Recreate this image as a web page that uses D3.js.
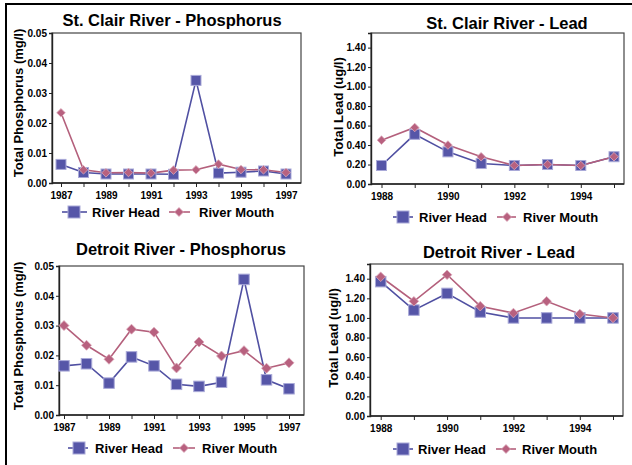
<!DOCTYPE html>
<html>
<head>
<meta charset="utf-8">
<script src="https://cdn.jsdelivr.net/npm/d3@7"></script>
<style>
html,body{margin:0;padding:0;background:#fff;}
svg{display:block;}
text{font-family:"Liberation Sans",Arial,Helvetica,sans-serif;font-weight:bold;fill:#000;}
</style>
</head>
<body>
<svg id="chart" width="632" height="465"></svg>
<script>
// ---- data ----
const yearsPhos = [1987,1988,1989,1990,1991,1992,1993,1994,1995,1996,1997];
const yearsLead = [1988,1989,1990,1991,1992,1993,1994,1995];
const phosYearLabels = [1987,1989,1991,1993,1995,1997];
const leadYearLabels = [1988,1990,1992,1994];
const phosTicks = [0,0.01,0.02,0.03,0.04,0.05];
const leadTicks = [0,0.2,0.4,0.6,0.8,1.0,1.2,1.4];
const seriesNames = ["River Head","River Mouth"];

const stClairPhosHead  = [0.0062,0.0035,0.0030,0.0030,0.0030,0.0029,0.0342,0.0033,0.0036,0.0040,0.0030];
const stClairPhosMouth = [0.0234,0.0044,0.0034,0.0035,0.0033,0.0043,0.0044,0.0063,0.0045,0.0044,0.0035];
const detroitPhosHead  = [0.0165,0.0172,0.0107,0.0195,0.0165,0.0103,0.0096,0.0110,0.0455,0.0118,0.0088];
const detroitPhosMouth = [0.0300,0.0234,0.0187,0.0288,0.0278,0.0158,0.0245,0.0198,0.0216,0.0157,0.0175];
const stClairLeadHead  = [0.19,0.51,0.33,0.21,0.19,0.20,0.19,0.28];
const stClairLeadMouth = [0.45,0.58,0.40,0.28,0.19,0.20,0.19,0.28];
const detroitLeadHead  = [1.37,1.08,1.25,1.06,1.00,1.00,1.00,1.00];
const detroitLeadMouth = [1.42,1.17,1.44,1.12,1.05,1.17,1.04,1.00];

const headColor = "#5050a2", headFill = "#5656a8", headEdge = "#a9a9d8";
const mouthColor = "#b4607c", mouthFill = "#b8617f", mouthEdge = "#dca9bb";

const svg = d3.select("#chart");

// outer frame
svg.append("line").attr("x1",6).attr("x2",632).attr("y1",4).attr("y2",4).attr("stroke","#000").attr("stroke-width",2);
svg.append("line").attr("x1",6).attr("x2",6).attr("y1",3).attr("y2",465).attr("stroke","#000").attr("stroke-width",2);

const panels = [
  {title:"St. Clair River - Phosphorus", ytitle:"Total Phosphorus (mg/l)", years:yearsPhos, labels:phosYearLabels,
   ticks:phosTicks, fmt:d3.format(".2f"), ymax:0.05, head:stClairPhosHead, mouth:stClairPhosMouth,
   L:52,R:301,T:33,B:183, x0:61,x1:286, tx:172,ty:26, ax:18,ay:103, ly:212,
   hl:[62,87], hs:74, ht:92, ml:[169,190], md:179, mt:199, sq:10, dm:4.3},
  {title:"St. Clair River - Lead", ytitle:"Total Lead (ug/l)", years:yearsLead, labels:leadYearLabels,
   ticks:leadTicks, fmt:d3.format(".2f"), ymax:1.55, head:stClairLeadHead, mouth:stClairLeadMouth,
   L:371,R:624,T:33,B:184, x0:381.5,x1:614, tx:507,ty:29, ax:338,ay:107, ly:217,
   hl:[393,413], hs:403, ht:419, ml:[497,516], md:507, mt:523, sq:10, dm:4.3},
  {title:"Detroit River - Phosphorus", ytitle:"Total Phosphorus (mg/l)", years:yearsPhos, labels:phosYearLabels,
   ticks:phosTicks, fmt:d3.format(".2f"), ymax:0.05, head:detroitPhosHead, mouth:detroitPhosMouth,
   L:59,R:304,T:266,B:415, x0:64,x1:289, tx:181,ty:255, ax:18,ay:336, ly:448,
   hl:[68,88], hs:79, ht:95, ml:[173,195], md:184, mt:202, sq:10.5, dm:5},
  {title:"Detroit River - Lead", ytitle:"Total Lead (ug/l)", years:yearsLead, labels:leadYearLabels,
   ticks:leadTicks, fmt:d3.format(".2f"), ymax:1.55, head:detroitLeadHead, mouth:detroitLeadMouth,
   L:370,R:623,T:264,B:416, x0:380.7,x1:613, tx:499,ty:258, ax:333,ay:338, ly:449,
   hl:[393,413], hs:403, ht:418, ml:[496,516], md:506, mt:522, sq:10.5, dm:4.8}
];

function diamond(r){ return `M0,${-r}L${r},0L0,${r}L${-r},0Z`; }

panels.forEach(p => {
  const g = svg.append("g");
  const x = d3.scaleLinear().domain([p.years[0], p.years[p.years.length-1]]).range([p.x0, p.x1]);
  const y = d3.scaleLinear().domain([0, p.ymax]).range([p.B, p.T]);

  // title
  g.append("text").attr("x",p.tx).attr("y",p.ty).attr("text-anchor","middle")
    .style("font-size","16.5px").text(p.title);
  // y axis title
  g.append("text").attr("transform",`translate(${p.ax+4.6},${p.ay}) rotate(-90)`)
    .attr("text-anchor","middle").style("font-size","13px").text(p.ytitle);

  // frame (top/right)
  g.append("rect").attr("x",p.L).attr("y",p.T).attr("width",p.R-p.L).attr("height",p.B-p.T)
    .attr("fill","none").attr("stroke","#444").attr("stroke-width",1.2);

  // y axis
  const yAxis = d3.axisLeft(y).tickValues(p.ticks).tickFormat(p.fmt).tickSize(3).tickPadding(2);
  const ya = g.append("g").attr("transform",`translate(${p.L},0)`).call(yAxis);
  ya.select(".domain").attr("stroke","#222").attr("stroke-width",1.4);
  ya.selectAll(".tick line").attr("stroke","#222");
  ya.selectAll(".tick text").style("font-size","10px").attr("fill","#000");

  // x axis
  const xAxis = d3.axisBottom(x).tickValues(p.years)
    .tickFormat(d => p.labels.includes(d) ? String(d) : "").tickSize(4).tickPadding(5);
  const xa = g.append("g").attr("transform",`translate(0,${p.B})`).call(xAxis);
  xa.select(".domain").attr("d",`M${p.L},0H${p.R}`).attr("stroke","#222").attr("stroke-width",1.4);
  xa.selectAll(".tick line").attr("stroke","#222");
  xa.selectAll(".tick text").style("font-size","10px").attr("fill","#000");

  const line = d3.line().x((d,i)=>x(p.years[i])).y(d=>y(d));

  // head series
  g.append("path").datum(p.head).attr("d",line).attr("fill","none").attr("stroke",headColor).attr("stroke-width",1.6);
  // mouth series
  g.append("path").datum(p.mouth).attr("d",line).attr("fill","none").attr("stroke",mouthColor).attr("stroke-width",1.6);

  g.selectAll(".sq").data(p.head).enter().append("rect")
    .attr("x",(d,i)=>x(p.years[i])-p.sq/2).attr("y",d=>y(d)-p.sq/2)
    .attr("width",p.sq).attr("height",p.sq)
    .attr("fill",headFill).attr("stroke",headEdge).attr("stroke-width",1);
  g.selectAll(".dm").data(p.mouth).enter().append("path")
    .attr("transform",(d,i)=>`translate(${x(p.years[i])},${y(d)})`)
    .attr("d",diamond(p.dm)).attr("fill",mouthFill).attr("stroke",mouthEdge).attr("stroke-width",0.8);

  // legend
  g.append("line").attr("x1",p.hl[0]).attr("x2",p.hl[1]).attr("y1",p.ly).attr("y2",p.ly).attr("stroke",headColor).attr("stroke-width",1.6);
  g.append("rect").attr("x",p.hs-6).attr("y",p.ly-6).attr("width",12).attr("height",12)
    .attr("fill",headFill).attr("stroke",headEdge).attr("stroke-width",1);
  g.append("text").attr("x",p.ht).attr("y",p.ly+4.7).style("font-size","13px").text(seriesNames[0]);
  g.append("line").attr("x1",p.ml[0]).attr("x2",p.ml[1]).attr("y1",p.ly).attr("y2",p.ly).attr("stroke",mouthColor).attr("stroke-width",1.6);
  g.append("path").attr("transform",`translate(${p.md},${p.ly})`).attr("d",diamond(4.5))
    .attr("fill",mouthFill).attr("stroke",mouthEdge).attr("stroke-width",0.8);
  g.append("text").attr("x",p.mt).attr("y",p.ly+4.7).style("font-size","13px").text(seriesNames[1]);
});
</script>
</body>
</html>
